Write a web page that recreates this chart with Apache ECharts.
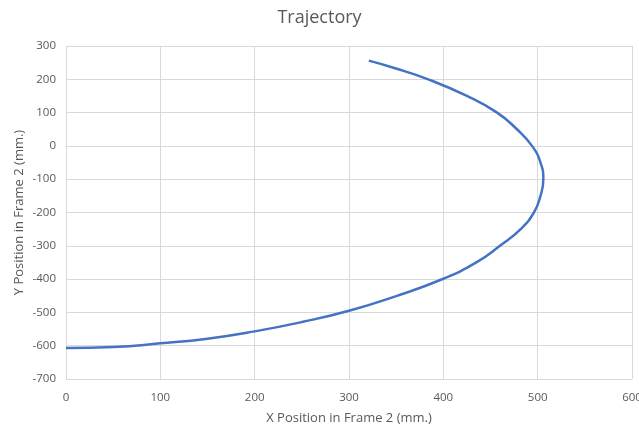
<!DOCTYPE html>
<html><head><meta charset="utf-8">
<script src="https://cdn.jsdelivr.net/npm/echarts@6/dist/echarts.min.js"></script>
<style>html,body{margin:0;padding:0;background:#fff}#c{width:639px;height:427px}</style>
</head><body><div id="c"></div>
<script>
const xPos = [321, 348, 384, 425, 457, 478, 494, 503, 506, 503, 496, 482, 460, 435, 400, 350, 300, 250, 200, 150, 100, 50, 0];
const yPos = [256, 234, 200, 150, 100, 50, 0, -50, -100, -150, -200, -250, -300, -350, -399, -451, -495, -529, -557, -579, -593, -604, -607];
const xTicks = {min: 0, max: 600, interval: 100};
const yTicks = {min: -700, max: 300, interval: 100};
const data = xPos.map((x, i) => [x, yPos[i]]);
const font = '"Open Sans", "Noto Sans", sans-serif';
const chart = echarts.init(document.getElementById('c'), null, {renderer: 'canvas'});
chart.setOption({
  animation: false,
  title: {text: 'Trajectory', left: 'center', top: 4,
    textStyle: {fontFamily: font, fontSize: 18, fontWeight: 'normal', color: '#595959'}},
  grid: {left: 66, right: 7, top: 46, bottom: 48, containLabel: false, outerBoundsMode: 'none'},
  xAxis: {type: 'value', min: xTicks.min, max: xTicks.max, interval: xTicks.interval,
    name: 'X Position in Frame 2 (mm.)', nameLocation: 'middle', nameGap: 33,
    nameTextStyle: {fontFamily: font, fontSize: 13, color: '#595959'},
    axisLine: {show: true, lineStyle: {color: '#d9d9d9'}}, axisTick: {show: false},
    axisLabel: {fontFamily: font, fontSize: 11.5, color: '#595959', margin: 13},
    splitLine: {lineStyle: {color: '#d9d9d9'}}},
  yAxis: {type: 'value', min: yTicks.min, max: yTicks.max, interval: yTicks.interval,
    name: 'Y Position in Frame 2 (mm.)', nameLocation: 'middle', nameGap: 40, nameMoveOverlap: false,
    nameTextStyle: {fontFamily: font, fontSize: 13, color: '#595959'},
    axisLine: {show: true, onZero: false, lineStyle: {color: '#d9d9d9'}}, axisTick: {show: false},
    axisLabel: {fontFamily: font, fontSize: 11.5, color: '#595959', margin: 10},
    splitLine: {lineStyle: {color: '#d9d9d9'}}},
  series: [{type: 'line', data: data, smooth: 0.5, showSymbol: false, symbol: 'none',
    lineStyle: {color: '#4472C4', width: 2.5}}]
});
</script></body></html>
